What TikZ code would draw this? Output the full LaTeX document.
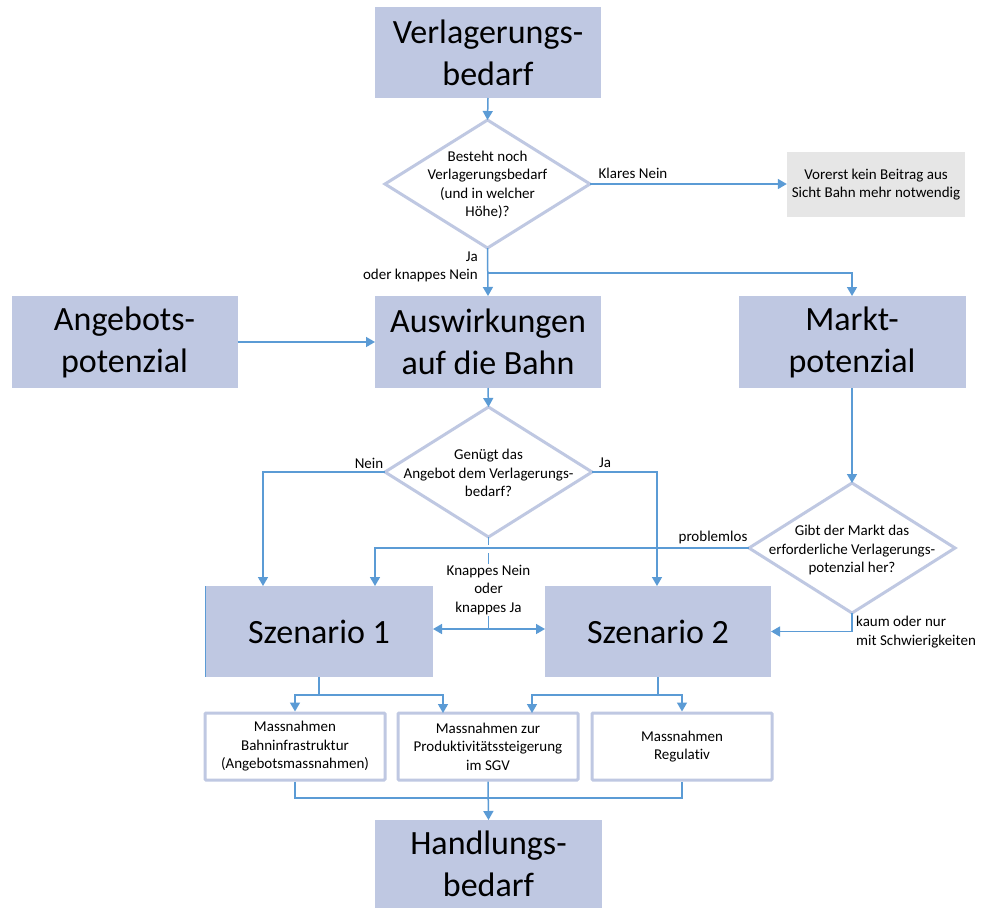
\documentclass[tikz,border=0pt]{standalone}
\usepackage{fontspec}
\setmainfont{Carlito}[Ligatures={NoCommon}]
\usetikzlibrary{arrows.meta,shapes.geometric}
\definecolor{boxfill}{HTML}{BFC8E2}
\definecolor{arrowblue}{HTML}{5B9BD5}
\definecolor{grayfill}{HTML}{E6E6E6}
\newcommand\BigTxt{\fontsize{34}{42}\selectfont}
\newcommand\SmTxt{\fontsize{15}{18.5}\selectfont}
\tikzset{
  bigbox/.style={fill=boxfill, draw=none, minimum width=226pt, minimum height=91pt, inner sep=0pt, outer sep=0pt, font=\BigTxt, align=center},
  decision/.style={diamond, draw=boxfill, line width=3pt, fill=white, inner sep=0pt, outer sep=0pt},
  dtext/.style={inner sep=0pt, font=\SmTxt, align=center},
  mbox/.style={draw=boxfill, line width=3pt, fill=white, rounded corners=1pt, minimum width=180pt, minimum height=67pt, inner sep=0pt, outer sep=1.5pt, font=\SmTxt, align=center},
  lbl/.style={inner sep=0pt, font=\SmTxt},
  conn/.style={draw=arrowblue, line width=1.5pt},
  arr/.style={conn, -{Triangle[length=9pt,width=10pt]}},
  darr/.style={conn, {Triangle[length=9pt,width=10pt]}-{Triangle[length=9pt,width=10pt]}}
}
\begin{document}
\begin{tikzpicture}[x=1pt,y=-1pt]
\useasboundingbox (0,0) rectangle (981,908);
\fill[white] (0,0) rectangle (981,908);
% main boxes
\node[bigbox] (vb) at (488,52.5) {Verlagerungs-\\bedarf};
\node[bigbox, minimum height=92pt] (ap) at (124.5,342) {Angebots-\\potenzial};
\node[bigbox, minimum height=92pt] (aus) at (488,342) {Auswirkungen\\auf die Bahn};
\node[bigbox, minimum height=92pt, minimum width=227pt] (mp) at (852,342) {Markt-\\potenzial};
\node[bigbox, minimum width=228pt] (s1) at (319,631.5) {Szenario 1};
\node[bigbox] (s2) at (658,631.5) {Szenario 2};
\node[bigbox, minimum width=227pt, minimum height=88pt] (hb) at (488.5,864) {Handlungs-\\bedarf};
\draw[arrowblue, line width=0.8pt] (s1.north west) -- (s1.south west);
% gray box
\node[fill=grayfill, minimum width=178pt, minimum height=65pt, inner sep=0pt, font=\SmTxt, align=center] (vor) at (876,184.5) {Vorerst kein Beitrag aus\\Sicht Bahn mehr notwendig};
% decisions
\node[decision, minimum width=205pt, minimum height=128pt] (d1) at (487.5,184) {};
\node[dtext] at (487.5,185) {Besteht noch\\Verlagerungsbedarf\\(und in welcher\\Höhe)?};
\node[decision, minimum width=207pt, minimum height=130pt] (d2) at (488.5,472) {};
\node[dtext] at (488.5,473) {Genügt das\\Angebot dem Verlagerungs-\\bedarf?};
\node[decision, minimum width=206pt, minimum height=130pt] (d3) at (852,548) {};
\node[dtext] at (852,550) {Gibt der Markt das\\erforderliche Verlagerungs-\\potenzial her?};
% measure boxes
\node[mbox] (m1) at (295,746.5) {Massnahmen\\Bahninfrastruktur\\(Angebotsmassnahmen)};
\node[mbox] (m2) at (488,746.5) {Massnahmen zur\\Produktivitätssteigerung\\im SGV};
\node[mbox] (m3) at (682,746.5) {Massnahmen\\Regulativ};
% helper coordinates
\coordinate (br1) at (487.5,273);
\coordinate (s1a) at (263,586);
\coordinate (s1b) at (375,586);
\coordinate (s2a) at (657,586);
\coordinate (g1) at (488.5,545);
\coordinate (g2) at (488.5,553);
\coordinate (mid) at (488.5,629);
\coordinate (j1) at (319,695);
\coordinate (j2) at (658,695);
\coordinate (m2a) at (443,713);
\coordinate (m2b) at (532,713);
% connectors
\draw[arr] (vb.south) -- (d1.north);
\draw[arr] (d1.east) -- (d1.east -| vor.west);
\draw[arr] (d1.south) -- (aus.north);
\draw[arr] (br1) -| (mp.north);
\draw[arr] (ap.east) -- (ap.east -| aus.west);
\draw[arr] (aus.south) -- (d2.north);
\draw[arr] (d2.west) -| (s1a);
\draw[arr] (d2.east) -| (s2a);
\draw[conn] (d2.south) -- (g1);
\draw[conn] (g2) -- (mid);
\node[lbl, fill=white, align=center, inner sep=1pt] (kn) at (488.5,590) {Knappes Nein\\oder\\knappes Ja};
\draw[arr] (mid) -- (mid -| s1.east);
\draw[arr] (mid) -- (mid -| s2.west);
\draw[arr] (mp.south) -- (d3.north);
\draw[arr] (d3.west) -| (s1b);
\draw[arr] (d3.south) |- (s2.east);
\draw[conn] (s1.south) -- (j1);
\draw[arr] (j1) -| (m1.north);
\draw[arr] (j1) -| (m2a);
\draw[conn] (s2.south) -- (j2);
\draw[arr] (j2) -| (m2b);
\draw[arr] (j2) -| (m3.north);
\draw[conn] (m1.south) -- ++(0,16.5) -| (m3.south);
\draw[arr] (m2.south) -- (hb.north);
% labels
\node[lbl] (l1) at (633,173) {Klares Nein};
\node[lbl, anchor=east, align=right] (l2) at (478,267) {Ja\\oder knappes Nein};
\node[lbl] (l3) at (369,463) {Nein};
\node[lbl] (l4) at (605,463) {Ja};
\node[lbl] (l5) at (713,537) {problemlos};
\node[lbl, anchor=west, align=left] (l6) at (856,632) {kaum oder nur\\mit Schwierigkeiten};
\end{tikzpicture}
\end{document}
